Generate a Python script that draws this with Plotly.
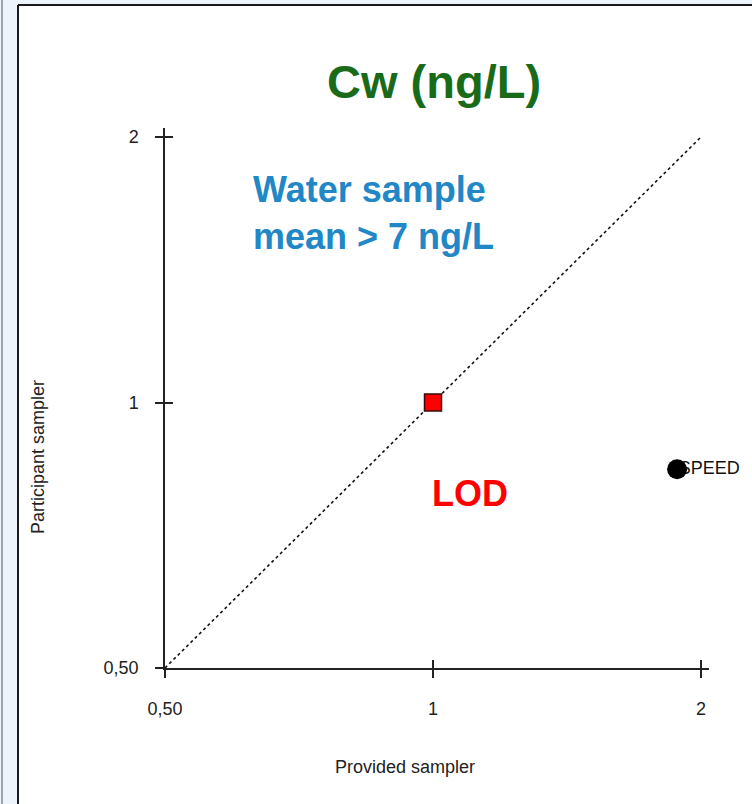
import plotly.graph_objects as go
import math

# ---- data ----
tick_vals = [0.5, 1, 2]
tick_text = ["0,50", "1", "2"]
ref_line_x = [0.5, 2]
ref_line_y = [0.5, 2]
lod_x = [1.0]
lod_y = [1.0]
speed_x = [1.88]
speed_y = [0.84]
speed_label = ["SPEED"]

W, H = 752, 804
L, R, T, B = 165, 709, 128, 668  # plot area in pixels


def px(x):
    return (x - L) / (R - L)


def py(y):
    return (B - y) / (B - T)


FONT = "Liberation Sans, Arial, sans-serif"
AX = "#222222"

fig = go.Figure()

# 1:1 reference line
fig.add_trace(go.Scatter(x=ref_line_x, y=ref_line_y, mode="lines",
                         line=dict(color="#111111", width=1.6, dash="dot"),
                         hoverinfo="skip", showlegend=False))
# SPEED label (drawn below the marker)
fig.add_trace(go.Scatter(x=speed_x, y=speed_y, mode="markers+text", text=speed_label,
                         textposition="middle right", cliponaxis=False,
                         marker=dict(size=1, color="rgba(0,0,0,0)"),
                         textfont=dict(family=FONT, size=18, color="#111111"),
                         showlegend=False))
# LOD square
fig.add_trace(go.Scatter(x=lod_x, y=lod_y, mode="markers", cliponaxis=False,
                         marker=dict(symbol="square", size=17, color="#ff0000",
                                     line=dict(color="#3a0a0a", width=1.5)),
                         showlegend=False))
# SPEED point
fig.add_trace(go.Scatter(x=speed_x, y=speed_y, mode="markers", cliponaxis=False,
                         marker=dict(symbol="circle", size=20, color="#000000"),
                         showlegend=False))

lx0 = math.log10(0.5)
xr = [lx0, math.log10(2) + 8 * math.log10(2) / 268]
yr = [lx0, math.log10(2) + 9 * math.log10(2) / 265.5]

common = dict(type="log", tickvals=tick_vals, showgrid=False, zeroline=False,
              tickcolor=AX, tickwidth=1.5, ticklen=8)

fig.update_layout(
    width=W, height=H,
    margin=dict(l=L, r=W - R, t=T, b=H - B),
    paper_bgcolor="white", plot_bgcolor="white",
    showlegend=False,
    xaxis=dict(**common, range=xr, ticktext=tick_text, ticks="outside",
               showline=True, linecolor=AX, linewidth=1.5,
               tickfont=dict(family=FONT, size=18, color=AX), ticklabelstandoff=16),
    yaxis=dict(**common, range=yr, ticktext=tick_text, ticks="outside",
               showline=True, linecolor=AX, linewidth=1.5,
               tickfont=dict(family=FONT, size=18, color=AX), ticklabelstandoff=13),
    xaxis2=dict(**common, range=xr, overlaying="x", matches="x", ticks="inside",
                showticklabels=False, showline=False, anchor="y"),
    yaxis2=dict(**common, range=yr, overlaying="y", matches="y", ticks="inside",
                showticklabels=False, showline=False, anchor="x"),
)
# dummy trace to activate overlay axes
fig.add_trace(go.Scatter(x=ref_line_x, y=ref_line_y, xaxis="x2", yaxis="y2", mode="markers",
                         marker=dict(size=1, color="rgba(0,0,0,0)"), hoverinfo="skip",
                         showlegend=False))

# slide frame / background strips
shapes = [
    dict(type="rect", xref="paper", yref="paper", x0=px(0), x1=px(18), y0=py(H), y1=py(0),
         fillcolor="#eef4fb", line=dict(width=0), layer="below"),
    dict(type="rect", xref="paper", yref="paper", x0=px(0), x1=px(W), y0=py(5), y1=py(0),
         fillcolor="#eef4fb", line=dict(width=0), layer="below"),
    dict(type="line", xref="paper", yref="paper", x0=px(2), x1=px(2), y0=py(H), y1=py(0),
         line=dict(color="#555555", width=1)),
    dict(type="line", xref="paper", yref="paper", x0=px(18), x1=px(18), y0=py(H), y1=py(5),
         line=dict(color="#1a1a1a", width=2)),
    dict(type="line", xref="paper", yref="paper", x0=px(18), x1=px(W), y0=py(5), y1=py(5),
         line=dict(color="#1a1a1a", width=2)),
]
fig.update_layout(shapes=shapes)

ann = [
    dict(text="<b>Cw (ng/L)</b>", x=px(434), y=py(82), font=dict(family=FONT, size=47, color="#196b19")),
    dict(text="<b>Water sample<br>mean > 7 ng/L</b>", x=px(251), y=py(213), xanchor="left", align="left",
         font=dict(family=FONT, size=36, color="#2187c6")),
    dict(text="<b>LOD</b>", x=px(470), y=py(493), font=dict(family=FONT, size=36, color="#ff0000")),
    dict(text="Provided sampler", x=px(405), y=py(767), font=dict(family=FONT, size=18, color=AX)),
    dict(text="Participant sampler", x=px(38), y=py(457), textangle=-90,
         font=dict(family=FONT, size=18, color=AX)),
]
for a in ann:
    a.update(xref="paper", yref="paper", showarrow=False)
    a.setdefault("xanchor", "center")
    a.setdefault("yanchor", "middle")
fig.update_layout(annotations=ann)

fig.write_html("out.html")
